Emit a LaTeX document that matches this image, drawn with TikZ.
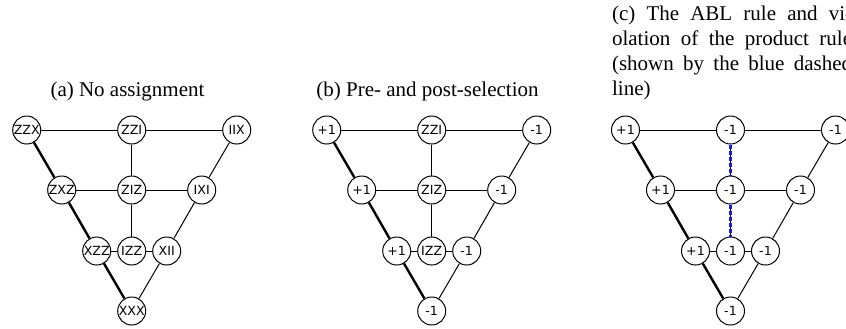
\documentclass[tikz,border=0pt]{standalone}
\usepackage{fontspec}
\setmainfont{Liberation Serif}
\newfontfamily\vtxfont{DejaVu Sans}
\usepackage{tikz}
\usetikzlibrary{calc}
\usepackage{color}
\definecolor{dashblue}{RGB}{25, 25, 235}

\tikzset{
    vtx/.style      = {draw, circle, line width=0.5pt, minimum size=14pt, inner sep=0pt, fill=white,
                       font=\vtxfont\fontsize{6.3}{6.3}\selectfont},
    thinedge/.style = {line width=0.5pt},
    thickedge/.style= {line width=1.2pt},
    abledge/.style  = {color=dashblue, line width=1.2pt, dash pattern=on 2pt off 1pt},
    caption/.style  = {font=\fontsize{10.5}{12.5}\selectfont, anchor=base}
}

\begin{document}
\begin{tikzpicture}[x=0.5pt, y=-0.5pt]
        \useasboundingbox (0,0) rectangle (846,328);
        % captions
        \node[caption]                                         (capa) at (127.5, 96.7) {(a) No assignment};
        \node[caption]                                         (capb) at (427.5, 96.7) {(b) Pre- and post-selection};
        \node[caption, anchor=base west, text width=120pt, align=justify]
                                                               (capc) at (605.0, 20.7)
            {(c) The ABL rule and vi-\linebreak olation of the product rule\linebreak (shown by the blue dashed\linebreak line)};
        % (a) no assignment
        \begin{scope}[shift={(131.7,0)}]
            \node[vtx] (a1l) at (-105,130) {ZZX};  \node[vtx] (a1m) at (0,130) {ZZI};  \node[vtx] (a1r) at (105,130) {IIX};
            \node[vtx] (a2l) at ( -70,190) {ZXZ};  \node[vtx] (a2m) at (0,190) {ZIZ};  \node[vtx] (a2r) at ( 70,190) {IXI};
            \node[vtx] (a3l) at ( -35,251) {XZZ};  \node[vtx] (a3m) at (0,251) {IZZ};  \node[vtx] (a3r) at ( 35,251) {XII};
            \node[vtx] (a4)  at (   0,311) {XXX};
        \end{scope}
        % (b) pre- and post-selection
        \begin{scope}[shift={(431.7,0)}]
            \node[vtx] (b1l) at (-105,130) {+1};   \node[vtx] (b1m) at (0,130) {ZZI};  \node[vtx] (b1r) at (105,130) {-1};
            \node[vtx] (b2l) at ( -70,190) {+1};   \node[vtx] (b2m) at (0,190) {ZIZ};  \node[vtx] (b2r) at ( 70,190) {-1};
            \node[vtx] (b3l) at ( -35,251) {+1};   \node[vtx] (b3m) at (0,251) {IZZ};  \node[vtx] (b3r) at ( 35,251) {-1};
            \node[vtx] (b4)  at (   0,311) {-1};
        \end{scope}
        % (c) ABL rule
        \begin{scope}[shift={(730.5,0)}]
            \node[vtx] (c1l) at (-105,130) {+1};   \node[vtx] (c1m) at (0,130) {-1};   \node[vtx] (c1r) at (105,130) {-1};
            \node[vtx] (c2l) at ( -70,190) {+1};   \node[vtx] (c2m) at (0,190) {-1};   \node[vtx] (c2r) at ( 70,190) {-1};
            \node[vtx] (c3l) at ( -35,251) {+1};   \node[vtx] (c3m) at (0,251) {-1};   \node[vtx] (c3r) at ( 35,251) {-1};
            \node[vtx] (c4)  at (   0,311) {-1};
        \end{scope}
        % edges
        \foreach \p in {a,b,c} {
            \draw[thinedge]  (\p1l) -- (\p1m) -- (\p1r);
            \draw[thinedge]  (\p2l) -- (\p2m) -- (\p2r);
            \draw[thinedge]  (\p3l) -- (\p3m) -- (\p3r);
            \draw[thinedge]  (\p1m) -- (\p2m) -- (\p3m);
            \draw[thinedge]  (\p1r) -- (\p2r) -- (\p3r) -- (\p4);
            \draw[thickedge] (\p1l) -- (\p2l) -- (\p3l) -- (\p4);
        }
        \draw[abledge] (c1m) -- (c2m);
        \draw[abledge] (c2m) -- (c3m);
\end{tikzpicture}
\end{document}
